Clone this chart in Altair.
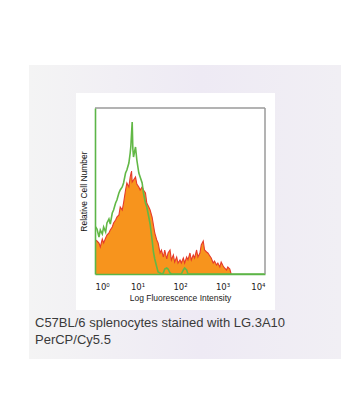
import altair as alt
import pandas as pd

# Histogram channels (256-channel, 64 channels per decade) and relative counts
red_ch = [0,1,3,6,8,11,13,16,18,21,23,26,28,31,33,36,38,41,43,46,48,51,53,55,56,58,61,63,66,68,
          71,73,76,78,81,83,86,88,90,93,95,98,100,103,105,108,110,113,115,118,120,123,125,128,130,
          133,135,138,140,143,145,148,150,153,155,158,160,163,165,168,170,173,175,178,180,183,185,
          188,190,193,195,198,200,203,205]
red_h = [34,34,33,31,27,35,31,36,39,41,44,47,51,54,57,59,67,64,71,84,91,87,97,103,92,94,97,90,87,84,
         87,84,81,71,67,64,57,49,41,34,31,21,24,17,24,15,21,24,14,19,12,17,11,14,11,
         16,11,17,14,21,14,19,16,24,17,21,29,33,24,22,21,18,16,11,13,9,11,
         7,12,8,6,4,7,5,0]

green_ch = [0,1,3,6,8,11,13,16,18,21,23,26,28,31,33,36,38,41,43,46,48,51,53,54,56,57,58,61,63,66,
            68,71,73,76,78,81,83,86,88,90,93,95,98,100,103,105,108,110,113,115,118,130,133,135,138,140,256]
green_h = [47,47,45,37,44,40,47,42,51,55,50,61,64,71,74,81,84,87,91,101,104,111,121,128,152,125,117,127,114,101,
           97,91,81,71,67,57,50,34,22,15,7,2,1,0,1,5,6,5,1,0,0,0,4,6,4,0,0]

tick_values = [1, 10, 100, 1000, 10000]
caption_lines = ["C57BL/6 splenocytes stained with LG.3A10", "PerCP/Cy5.5"]

red_df = pd.DataFrame({"intensity": [10 ** (c / 64) for c in red_ch], "count": red_h})
green_df = pd.DataFrame({"intensity": [10 ** (c / 64) for c in green_ch], "count": green_h})

W, H = 170, 166
FONT = "Liberation Sans"

xscale = alt.Scale(type="log", domain=[1, 10000], nice=False)
yscale = alt.Scale(domain=[0, 166], nice=False, zero=True)

label_expr = ("datum.value == 1 ? '10⁰' : datum.value == 10 ? '10¹' : datum.value == 100 ? '10²' : "
              "datum.value == 1000 ? '10³' : '10⁴'")

xaxis = alt.Axis(values=tick_values, labelExpr=label_expr, ticks=False, grid=False,
                 domainColor="#5cb548", domainWidth=1.6, labelFont="DejaVu Sans", labelFontSize=8.5,
                 labelColor="#222222", labelPadding=8, title="Log Fluorescence Intensity",
                 titleFont=FONT, titleFontSize=8.5, titleFontWeight="normal", titleColor="#222222",
                 titlePadding=3, zindex=1)
yaxis = alt.Axis(labels=False, ticks=False, grid=False, domainColor="#5cb548", domainWidth=1.6,
                 title="Relative Cell Number", titleFont=FONT, titleFontSize=8.5,
                 titleFontWeight="normal", titleColor="#111111", titlePadding=7, zindex=1)

one = pd.DataFrame({"a": [0]})

panel = alt.Chart(one).mark_rect(
    fill=alt.LinearGradient(gradient="linear", x1=0, x2=1, y1=0, y2=0,
                            stops=[alt.GradientStop(color="#f4f4f4", offset=0),
                                   alt.GradientStop(color="#eeeaf4", offset=0.55),
                                   alt.GradientStop(color="#f1eff4", offset=1)])
).encode(x=alt.value(-66), x2=alt.value(246), y=alt.value(-43), y2=alt.value(251))

card = alt.Chart(one).mark_rect(fill="#ffffff").encode(
    x=alt.value(-19), x2=alt.value(180), y=alt.value(-15), y2=alt.value(202))

area = alt.Chart(red_df).mark_area(color="#f7941d", opacity=1, interpolate="linear").encode(
    x=alt.X("intensity:Q", scale=xscale, axis=xaxis),
    y=alt.Y("count:Q", scale=yscale, axis=yaxis),
)
red_line = alt.Chart(red_df).mark_line(color="#e63a2a", strokeWidth=1.1).encode(
    x=alt.X("intensity:Q", scale=xscale), y=alt.Y("count:Q", scale=yscale))
green_line = alt.Chart(green_df).mark_line(color="#62b846", strokeWidth=1.6).encode(
    x=alt.X("intensity:Q", scale=xscale), y=alt.Y("count:Q", scale=yscale))

top_rule = alt.Chart(one).mark_rule(color="#9a9a9a", strokeWidth=1.5).encode(
    x=alt.value(0), x2=alt.value(W), y=alt.value(0))
right_rule = alt.Chart(one).mark_rule(color="#9a9a9a", strokeWidth=1.5).encode(
    x=alt.value(W), y=alt.value(0), y2=alt.value(H))

cap1 = alt.Chart(one).mark_text(align="left", baseline="middle", font=FONT, fontSize=13,
                                color="#3a3a3a").encode(
    x=alt.value(-60), y=alt.value(215), text=alt.value(caption_lines[0]))
cap2 = alt.Chart(one).mark_text(align="left", baseline="middle", font=FONT, fontSize=13,
                                color="#3a3a3a").encode(
    x=alt.value(-60), y=alt.value(232), text=alt.value(caption_lines[1]))

chart = alt.layer(panel, card, area, red_line, green_line, top_rule, right_rule, cap1, cap2).properties(
    width=W, height=H,
    padding={"left": 87, "top": 100, "right": 87, "bottom": 137},
    autosize=alt.AutoSizeParams(type="none"),
    background="#ffffff",
).configure_view(stroke=None)

chart.save("out.html", embed_options={"renderer": "svg", "actions": False})
